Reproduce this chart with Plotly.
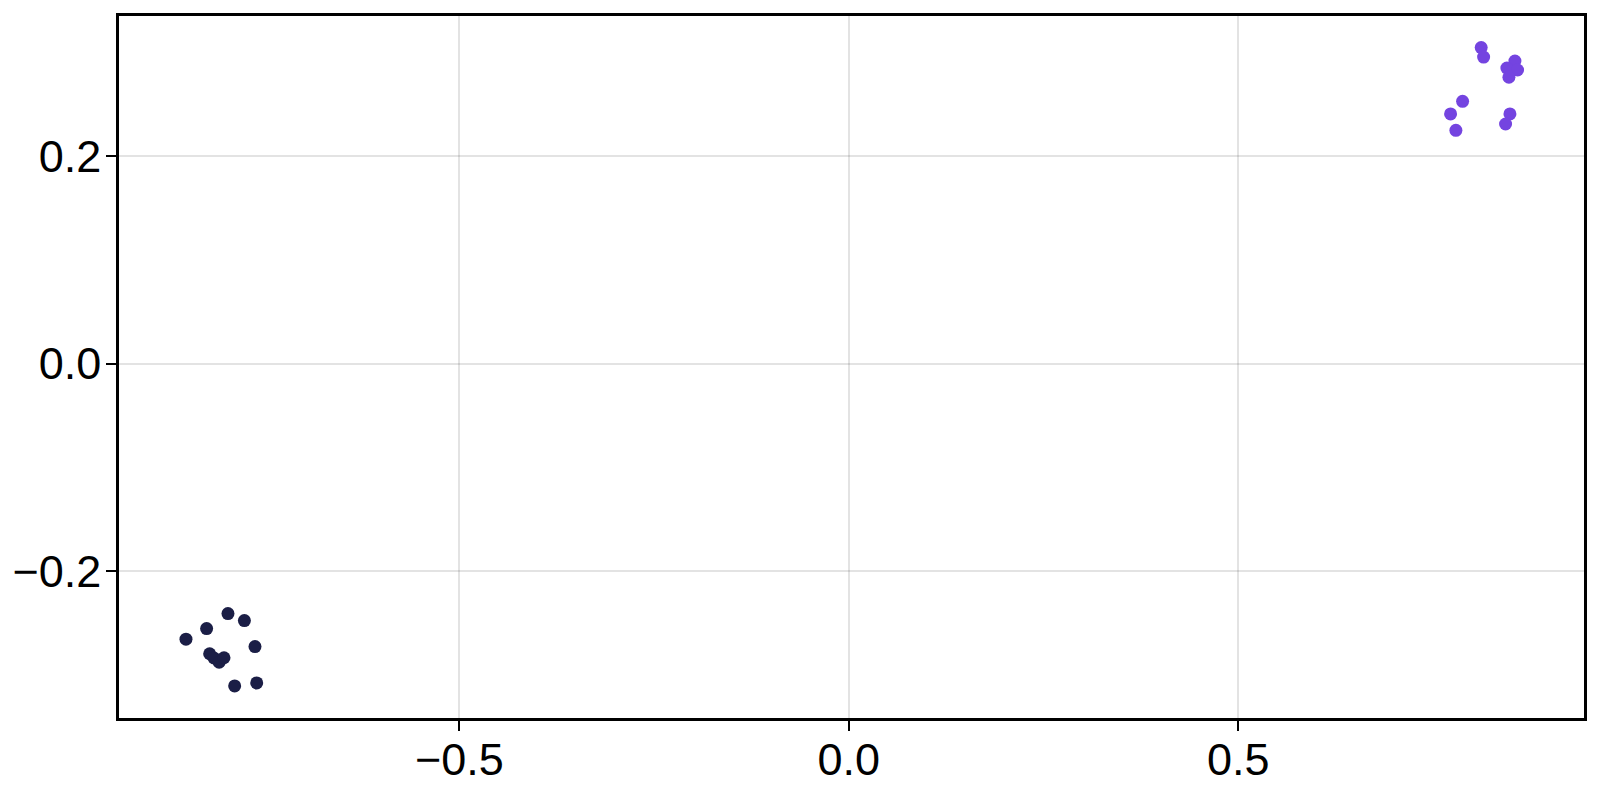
import plotly.graph_objects as go

# group A (dark navy, lower left)
xA = [-0.7971, -0.7760, -0.8245, -0.8510, -0.7624, -0.8206, -0.8151, -0.8084, -0.8022, -0.7885, -0.7602]
yA = [-0.2412, -0.2479, -0.2556, -0.2659, -0.2730, -0.2799, -0.2840, -0.2881, -0.2838, -0.3110, -0.3081]

# group B (purple, upper right)
xB = [0.8120, 0.8151, 0.8553, 0.8450, 0.8587, 0.8476, 0.7881, 0.7727, 0.7795, 0.8489, 0.8433]
yB = [0.3048, 0.2957, 0.2919, 0.2851, 0.2832, 0.2762, 0.2530, 0.2408, 0.2250, 0.2408, 0.2311]

xticks = [-0.5, 0.0, 0.5]
yticks = [-0.2, 0.0, 0.2]

fig = go.Figure()
fig.add_trace(go.Scatter(x=xA, y=yA, mode="markers",
                         marker=dict(size=13, color="#1b1e46", line=dict(width=0))))
fig.add_trace(go.Scatter(x=xB, y=yB, mode="markers",
                         marker=dict(size=13, color="#7444e0", line=dict(width=0))))

axis_style = dict(
    showline=True, linecolor="black", linewidth=2.5, mirror=True,
    showgrid=True, gridcolor="rgba(0,0,0,0.11)", gridwidth=1.5,
    zeroline=False, ticks="outside", ticklen=10, tickwidth=2, tickcolor="black",
    tickfont=dict(family="Liberation Sans", size=45, color="black"),
    automargin=False,
)

fig.update_xaxes(range=[-0.937, 0.944], tickvals=xticks,
                 ticktext=["\u22120.5", "0.0", "0.5"], ticklabelstandoff=-10, **axis_style)
fig.update_yaxes(range=[-0.3419, 0.3353], tickvals=yticks,
                 ticktext=["\u22120.2", "0.0", "0.2"], ticklabelstandoff=-4, **axis_style)

# page body adds an 8px margin, so the figure is 8px smaller and shifted
fig.update_layout(
    width=1592, height=792,
    margin=dict(l=111, r=16, t=8, b=82),
    plot_bgcolor="white", paper_bgcolor="white",
    showlegend=False,
)

fig.write_html("out.html")
